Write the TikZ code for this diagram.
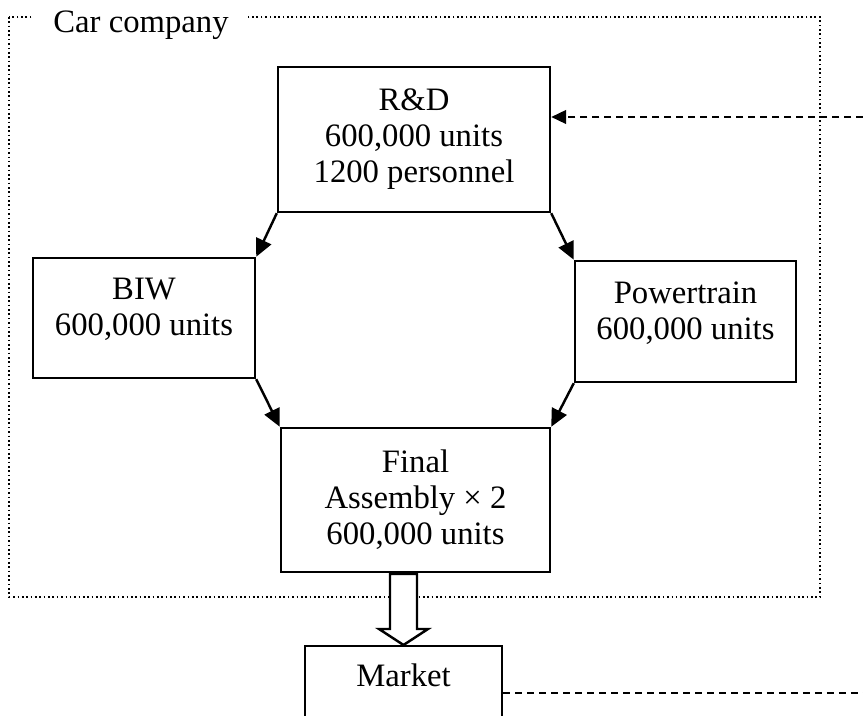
\documentclass[tikz,border=0pt]{standalone}
\usepackage{fontspec}
\setmainfont{Liberation Serif}
\usetikzlibrary{arrows.meta}

\begin{document}
\begin{tikzpicture}[x=0.367pt, y=-0.367pt,
  blk/.style={draw, line width=0.9pt, align=center, inner sep=0pt,
              font=\fontsize{12pt}{13.2pt}\selectfont},
  flow/.style={draw, line width=0.9pt, -{Triangle[length=6.5pt, width=6pt]}},
  fb/.style={draw, line width=0.9pt, dash pattern=on 2.6pt off 1.8pt},
  frm/.style={draw, line width=0.6pt, densely dotted}]

  \def\u{0.367pt}

  % page window (Market box runs past the lower edge)
  \path[use as bounding box, clip] (0,0) rectangle (863,716);

  % company frame and its title
  \draw[frm] (9,17) rectangle (820,597);
  \node[font=\fontsize{12pt}{13.2pt}\selectfont, fill=white, inner xsep=7pt, inner ysep=1pt] (co) at (141,25) {Car company};

  % units
  \node[blk, minimum width=272*\u, minimum height=145*\u] (rd) at (414,139.5) {R\&D\\600,000 units\\1200 personnel};
  \node[blk, minimum width=222*\u, minimum height=120*\u, text depth=8pt] (biw) at (144,318) {BIW\\600,000 units};
  \node[blk, minimum width=221*\u, minimum height=121*\u, text depth=8pt] (pt) at (685.5,321.5) {Powertrain\\600,000 units};
  \node[blk, minimum width=269*\u, minimum height=144*\u] (fa) at (415.5,500) {Final\\Assembly × 2\\600,000 units};
  \node[blk, minimum width=197*\u, inner ysep=6.6pt, text depth=30pt, anchor=north] (mk) at (403.5,645) {Market};

  % part flows
  \draw[flow] (rd.south west) -- (biw.north east);
  \draw[flow] (rd.south east) -- (pt.north west);
  \draw[flow] (biw.south east) -- (fa.north west);
  \draw[flow] (pt.south west) -- (fa.north east);

  % output to market (hollow arrow)
  \draw[line width=0.9pt, fill=white] (mk.north) -- ++(-24.5,-16) -- ++(11,0) -- ++(0,-55)
    -- ++(27,0) -- ++(0,55) -- ++(11,0) -- cycle;

  % market feedback, leaving the page
  \coordinate (fbin) at (863,117);
  \coordinate (fbout) at (863,693);
  \draw[fb, -{Triangle[length=5.5pt, width=5pt]}] (fbin) -- (fbin -| rd.east);
  \draw[fb] (fbout -| mk.east) -- (fbout);

\end{tikzpicture}
\end{document}
